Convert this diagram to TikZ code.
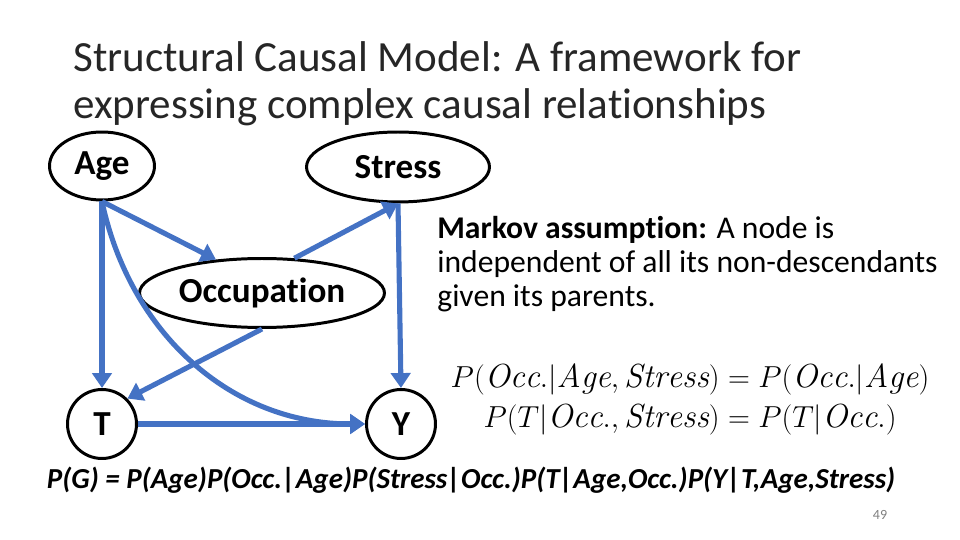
\documentclass[tikz,border=0pt]{standalone}
\usepackage{fontspec}
\setsansfont{Carlito}[Ligatures=NoCommon]
\usetikzlibrary{arrows.meta,shapes.geometric}
\definecolor{pptblue}{RGB}{68,114,196}

\begin{document}
\begin{tikzpicture}[x=0.02cm,y=-0.02cm,font=\sffamily,
  var/.style={draw,ellipse,line width=1.7pt,inner sep=0pt,font=\sffamily\bfseries\fontsize{20}{22}\selectfont},
  obs/.style={draw,circle,line width=1.7pt,inner sep=0pt,minimum size=1.38cm,font=\sffamily\bfseries\fontsize{20}{22}\selectfont},
  link/.style={line width=2.9pt,pptblue,-{Triangle[length=8.5pt,width=11pt]}}]
\useasboundingbox (0,0) rectangle (960,540);
% base anchor sits on the last line of a multi-line node
\node[anchor=base west,align=left,font=\sffamily\fontsize{24.5}{27.2}\selectfont,text=black!85,inner sep=0pt] (title) at (73,119) {Structural Causal Model: A framework for\\expressing complex causal relationships};
\node[var,minimum width=2.1cm,minimum height=1.36cm] (age) at (102,166) {Age};
\node[var,minimum width=3.66cm,minimum height=1.4cm] (stress) at (398,167) {Stress};
\node[var,minimum width=4.9cm,minimum height=1.38cm] (occ) at (262,293) {Occupation};
\node[obs] (t) at (102,424) {T};
\node[obs] (y) at (401,424) {Y};
\draw[link] (age.south) -- (t.north);
\draw[link] (age.south) -- (occ.144);
\draw[link] (occ.47) -- (stress.south);
\draw[link] (stress.south) -- (y.north);
\draw[link] (occ.south) -- (t.north east);
\draw[link] (t.east) -- (y.west);
\draw[link] (age.south) to[out=-78,in=180] (y.west);
\node[anchor=base west,align=left,inner sep=0pt,font=\sffamily\fontsize{18}{19.5}\selectfont] (markov) at (437,307) {\textbf{Markov assumption:} A node is\\independent of all its non-descendants\\given its parents.};
\node[anchor=base,inner sep=0pt,font=\fontsize{19}{22}\selectfont] (eq1) at (690,388) {$P(\mathit{Occ.}|\mathit{Age},\mathit{Stress})=P(\mathit{Occ.}|\mathit{Age})$};
\node[anchor=base,inner sep=0pt,font=\fontsize{19}{22}\selectfont] (eq2) at (690,427) {$P(T|\mathit{Occ.},\mathit{Stress})=P(T|\mathit{Occ.})$};
\node[anchor=base,inner sep=0pt,font=\sffamily\bfseries\itshape\fontsize{16.5}{18}\selectfont] (pg) at (471,488) {P(G) = P(Age)P(Occ.|Age)P(Stress|Occ.)P(T|Age,Occ.)P(Y|T,Age,Stress)};
\node[font=\sffamily\fontsize{8}{9}\selectfont,text=black!50] (page) at (880,515) {49};
\end{tikzpicture}
\end{document}
